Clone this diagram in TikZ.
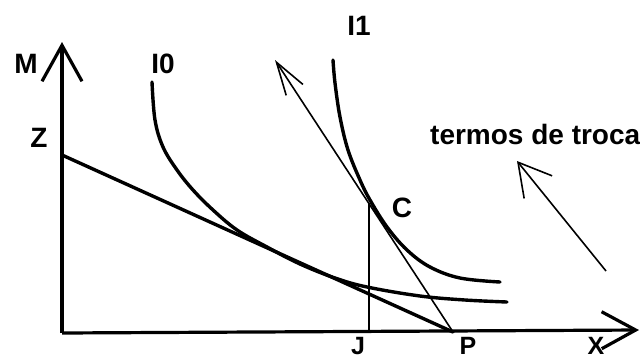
\documentclass[tikz,border=0pt]{standalone}
\usepackage{fontspec}
\setmainfont{Liberation Sans}
\usetikzlibrary{arrows.meta}
\tikzset{
  lbl/.style={inner sep=0pt, anchor=base, font=\fontsize{28}{28}\selectfont\bfseries},
  lowlbl/.style={lbl, font=\fontsize{25}{25}\selectfont\bfseries},
  axis/.style={line width=3.2pt},
  curve/.style={line width=3.4pt, line cap=round},
  thin/.style={line width=1.6pt},
}
\begin{document}
\begin{tikzpicture}[x=1pt,y=-1pt]
\useasboundingbox[fill=white] (0,0) rectangle (640,360);
% points
\coordinate (O) at (62,333);
\coordinate (Ytop) at (62,42);
\coordinate (Xend) at (639,330);
\coordinate (Zp) at (62,155);
\coordinate (Pp) at (453,332);
\coordinate (Tt) at (275,60);
\coordinate (Cp) at (369,203);
\coordinate (Jp) at (369,333);
\coordinate (Atail) at (606,271);
\coordinate (Atip) at (517,161);
% labels
\node[lbl] (M) at (26,73) {M};
\node[lbl] (Z) at (39,147) {Z};
\node[lbl] (I0) at (163,73) {I0};
\node[lbl] (I1) at (359,35) {I1};
\node[lbl] (C) at (402,217) {C};
\node[lowlbl] (J) at (358,354) {J};
\node[lowlbl] (P) at (468,354) {P};
\node[lowlbl] (X) at (596,354) {X};
\node[lbl, anchor=base west] (T) at (430,144) {termos de troca};
% axes
\draw[axis, -{Straight Barb[length=36pt,width=40pt]}] (O) -- (Ytop);
\draw[axis, -{Straight Barb[length=34pt,width=37pt]}] (O) -- (Xend);
% budget line
\draw[curve] (Zp) -- (Pp);
% indifference curves
\draw[curve] plot[smooth, tension=0.6] coordinates {(152,82) (155,120) (163,147) (177,170) (193,190) (213,210) (237,230) (267,247) (300,264) (335,278) (367,287) (420,296) (465,300) (507,302)};
\draw[curve] plot[smooth, tension=0.6] coordinates {(333,60) (335,83) (340,117) (348,150) (360,180) (370,200) (387,227) (407,250) (430,267) (460,278) (500,282)};
% terms of trade line
\draw[thin, -{Straight Barb[length=33pt,width=20pt]}] (Pp) -- (Tt);
\draw[thin] (Cp) -- (Jp);
\draw[thin, -{Straight Barb[length=32pt,width=36pt]}] (Atail) -- (Atip);
\end{tikzpicture}
\end{document}
